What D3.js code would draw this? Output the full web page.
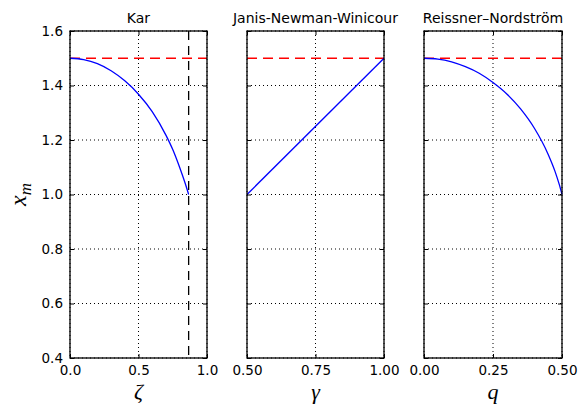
<!DOCTYPE html>
<html>
<head>
  <title>Photon sphere radius comparison</title>
  <script src="https://d3js.org/d3.v7.min.js"></script>
  <style>
    body { margin: 0; background: #fff; }
    text { font-family: "DejaVu Sans", sans-serif; }
  </style>
</head>
<body>
  <div id="chart"></div>

  <script>
    // values
    const karZeta = [0, 0.1, 0.2, 0.3, 0.4, 0.5, 0.6, 0.7, 0.75, 0.8, 0.84, 0.866];
    const karXm = [1.5, 1.495, 1.48, 1.454, 1.417, 1.368, 1.304, 1.218, 1.165, 1.10, 1.042, 1.0];
    const karLimit = 0.866;

    const jnwGamma = [0.5, 1.0];
    const jnwXm = [1.0, 1.5];

    const rnQ = [0, 0.05, 0.1, 0.15, 0.2, 0.25, 0.3, 0.35, 0.4, 0.45, 0.475, 0.49, 0.5];
    const rnXm = [1.5, 1.497, 1.487, 1.469, 1.445, 1.411, 1.369, 1.314, 1.243, 1.147, 1.084, 1.037, 1.0];

    const schwarzschild = 1.5;

    const yTicks = [0.4, 0.6, 0.8, 1.0, 1.2, 1.4, 1.6];

    const panels = [
      { title: "Kar", xlabel: "ζ", domain: [0, 1], ticks: [0, 0.5, 1.0], fmt: ".1f",
        xs: karZeta, ys: karXm, left: 70, right: 207, showY: true, vline: karLimit },
      { title: "Janis-Newman-Winicour", xlabel: "γ", domain: [0.5, 1], ticks: [0.5, 0.75, 1.0], fmt: ".2f",
        xs: jnwGamma, ys: jnwXm, left: 247, right: 384, showY: false },
      { title: "Reissner–Nordström", xlabel: "q", domain: [0, 0.5], ticks: [0, 0.25, 0.5], fmt: ".2f",
        xs: rnQ, ys: rnXm, left: 424, right: 562, showY: false }
    ];

    const plotTop = 31, plotBottom = 358;

    const svg = d3.select("#chart").append("svg")
      .attr("width", 580)
      .attr("height", 406);

    const y = d3.scaleLinear().domain([0.4, 1.6]).range([plotBottom, plotTop]);

    panels.forEach(p => {
      const x = d3.scaleLinear().domain(p.domain).range([p.left, p.right]);
      const g = svg.append("g");

      // dotted grid
      g.selectAll(".vgrid").data(p.ticks).enter().append("line")
        .attr("x1", d => x(d)).attr("x2", d => x(d))
        .attr("y1", plotTop).attr("y2", plotBottom)
        .attr("stroke", "#000").attr("stroke-width", 1)
        .attr("stroke-dasharray", "1,3");
      g.selectAll(".hgrid").data(yTicks).enter().append("line")
        .attr("x1", p.left).attr("x2", p.right)
        .attr("y1", d => y(d)).attr("y2", d => y(d))
        .attr("stroke", "#000").attr("stroke-width", 1)
        .attr("stroke-dasharray", "1,3");

      // red dashed reference line
      g.append("line")
        .attr("x1", p.left).attr("x2", p.right)
        .attr("y1", y(schwarzschild)).attr("y2", y(schwarzschild))
        .attr("stroke", "#ff0000").attr("stroke-width", 1.3)
        .attr("stroke-dasharray", "10,6");

      if (p.vline !== undefined) {
        g.append("line")
          .attr("x1", x(p.vline)).attr("x2", x(p.vline))
          .attr("y1", plotTop).attr("y2", plotBottom)
          .attr("stroke", "#000").attr("stroke-width", 1.3)
          .attr("stroke-dasharray", "9,6");
      }

      // curve
      const pts = p.xs.map((v, i) => [v, p.ys[i]]);
      g.append("path")
        .datum(pts)
        .attr("fill", "none")
        .attr("stroke", "#0000ff")
        .attr("stroke-width", 1.3)
        .attr("d", d3.line().x(d => x(d[0])).y(d => y(d[1])).curve(d3.curveMonotoneX));

      // axes with inward ticks on all four sides
      const xb = d3.axisBottom(x).tickValues(p.ticks).tickFormat(d3.format(p.fmt))
        .tickSizeInner(-4).tickSizeOuter(0).tickPadding(7);
      const xt = d3.axisTop(x).tickValues(p.ticks).tickFormat("")
        .tickSizeInner(-4).tickSizeOuter(0);
      const yl = d3.axisLeft(y).tickValues(yTicks).tickFormat(p.showY ? d3.format(".1f") : "")
        .tickSizeInner(-4).tickSizeOuter(0).tickPadding(7);
      const yr = d3.axisRight(y).tickValues(yTicks).tickFormat("")
        .tickSizeInner(-4).tickSizeOuter(0);

      const axes = [
        g.append("g").attr("transform", `translate(0,${plotBottom})`).call(xb),
        g.append("g").attr("transform", `translate(0,${plotTop})`).call(xt),
        g.append("g").attr("transform", `translate(${p.left},0)`).call(yl),
        g.append("g").attr("transform", `translate(${p.right},0)`).call(yr)
      ];
      axes.forEach(a => {
        a.select(".domain").remove();
        a.selectAll(".tick line").attr("stroke", "#000").attr("stroke-width", 1);
        a.selectAll(".tick text")
          .attr("fill", "#000")
          .style("font-size", "13.5px")
          .style("font-family", "DejaVu Sans, sans-serif");
      });

      // frame
      g.append("rect")
        .attr("x", p.left).attr("y", plotTop)
        .attr("width", p.right - p.left).attr("height", plotBottom - plotTop)
        .attr("fill", "none").attr("stroke", "#000").attr("stroke-width", 1.3);

      g.append("text")
        .attr("x", (p.left + p.right) / 2)
        .attr("y", 23)
        .attr("text-anchor", "middle")
        .style("font-size", "14px")
        .text(p.title);

      g.append("text")
        .attr("x", (p.left + p.right) / 2)
        .attr("y", 399)
        .attr("text-anchor", "middle")
        .style("font-family", "Liberation Serif, serif")
        .style("font-style", "italic")
        .style("font-size", "22px")
        .text(p.xlabel);
    });

    // y label x_m
    const ylab = svg.append("text")
      .attr("transform", `translate(26,${(plotTop + plotBottom) / 2}) rotate(-90)`)
      .attr("text-anchor", "middle")
      .style("font-family", "Liberation Serif, serif")
      .style("font-style", "italic")
      .style("font-size", "24px");
    ylab.append("tspan").text("x");
    ylab.append("tspan").attr("dy", 5).style("font-size", "17px").text("m");
  </script>
</body>
</html>
